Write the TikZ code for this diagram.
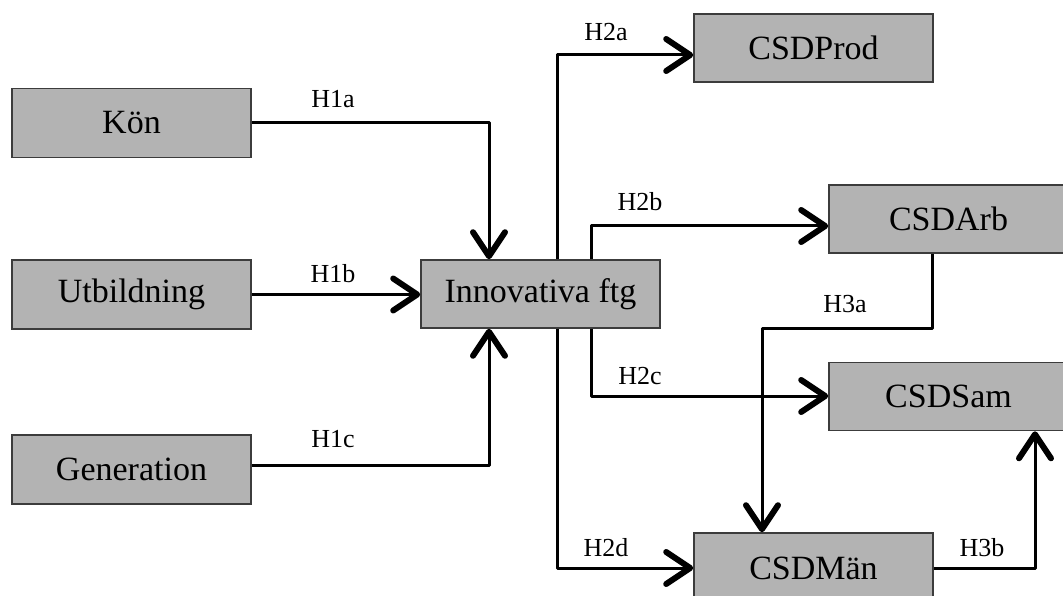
\documentclass[tikz,border=0pt]{standalone}
\usepackage{fontspec}
\setmainfont{Liberation Serif}
\usetikzlibrary{arrows.meta}
\definecolor{boxfill}{RGB}{179,179,179}
\definecolor{boxline}{RGB}{60,60,60}
\tikzset{
  box/.style={draw=boxline, fill=boxfill, line width=1.6pt, minimum width=239pt, minimum height=69pt, inner sep=0pt, font=\fontsize{34}{40}\selectfont},
  hyp/.style={font=\fontsize{26}{30}\selectfont, inner sep=0pt},
  conn/.style={line width=3pt, line join=round, -{Straight Barb[length=24pt,width=32pt,line width=6pt,round]}},
}
\begin{document}
\begin{tikzpicture}[x=1pt,y=-1pt]
\useasboundingbox (0,0) rectangle (1063,596);
\clip (0,0) rectangle (1063,596);
\node[box] (kon) at (131.5,123) {Kön};
\node[box] (utb) at (131.5,294.5) {Utbildning};
\node[box] (gen) at (131.5,469.5) {Generation};
\node[box, minimum height=68pt] (inn) at (540.5,294) {Innovativa ftg};
\node[box, minimum height=68pt] (prod) at (813.5,48) {CSDProd};
\node[box, minimum height=68pt] (arb) at (948.5,219) {CSDArb};
\node[box, minimum height=68pt] (sam) at (948.5,396.5) {CSDSam};
\node[box, minimum height=70pt] (man) at (813.5,568) {CSDMän};
% corner coordinates
\coordinate (c1a) at (489,123);
\coordinate (c1c) at (489,465);
\coordinate (c2a) at (557,55);
\coordinate (c2b) at (591,226);
\coordinate (c2c) at (591,396);
\coordinate (c2d) at (557,568);
\coordinate (c3a1) at (932,328);
\coordinate (c3a2) at (762,328);
\coordinate (c3b) at (1035,568);
% connectors
\draw[conn] (kon.east |- c1a) -- (c1a) -- (c1a |- inn.north);
\draw[conn] (utb.east) -- (inn.west |- utb.east);
\draw[conn] (gen.east |- c1c) -- (c1c) -- (c1c |- inn.south);
\draw[conn] (c2a |- inn.north) -- (c2a) -- (prod.west |- c2a);
\draw[conn] (c2b |- inn.north) -- (c2b) -- (arb.west |- c2b);
\draw[conn] (c2c |- inn.south) -- (c2c) -- (sam.west |- c2c);
\draw[conn] (c2d |- inn.south) -- (c2d) -- (man.west |- c2d);
\draw[conn] (c3a1 |- arb.south) -- (c3a1) -- (c3a2) -- (c3a2 |- man.north);
\draw[conn] (man.east |- c3b) -- (c3b) -- (c3b |- sam.south);
% labels
\node[hyp] (h1a) at (333,99) {H1a};
\node[hyp] (h1b) at (333,274) {H1b};
\node[hyp] (h1c) at (333,439) {H1c};
\node[hyp] (h2a) at (606,32) {H2a};
\node[hyp] (h2b) at (640,202) {H2b};
\node[hyp] (h2c) at (640,376) {H2c};
\node[hyp] (h2d) at (606,548) {H2d};
\node[hyp] (h3a) at (845,304) {H3a};
\node[hyp] (h3b) at (982,548) {H3b};
\end{tikzpicture}
\end{document}
